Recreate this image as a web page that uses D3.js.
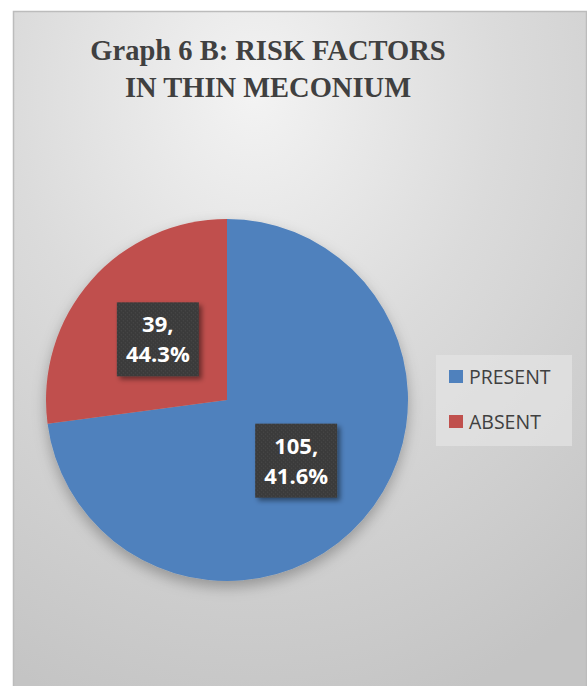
<!DOCTYPE html>
<html>
<head>
<meta charset="utf-8">
<script src="https://cdn.jsdelivr.net/npm/d3@7"></script>
<style>
  body { margin: 0; background: #fff; }
  svg { display: block; }
</style>
</head>
<body>
<div id="chart"></div>
<script>
// data
var categories = ["PRESENT", "ABSENT"];
var counts = [105, 39];
var labelPct = ["41.6%", "44.3%"];   // percentages as printed on the chart
var colors = ["#4f81bd", "#c0504d"];
var titleLines = ["Graph 6 B: RISK FACTORS", "IN THIN MECONIUM"];

var width = 587, height = 686;
var cx = 227, cy = 400, radius = 181;

var svg = d3.select("#chart").append("svg")
    .attr("width", width)
    .attr("height", height);

var defs = svg.append("defs");

var bg = defs.append("radialGradient")
    .attr("id", "bg")
    .attr("cx", "0.42").attr("cy", "0.12").attr("r", "0.95");
bg.append("stop").attr("offset", "0").attr("stop-color", "#f3f3f3");
bg.append("stop").attr("offset", "0.45").attr("stop-color", "#dbdbdb");
bg.append("stop").attr("offset", "1").attr("stop-color", "#c4c4c4");

var shadow = defs.append("filter").attr("id", "pieShadow")
    .attr("x", "-20%").attr("y", "-20%").attr("width", "140%").attr("height", "140%");
shadow.append("feDropShadow")
    .attr("dx", 0).attr("dy", 6).attr("stdDeviation", 7)
    .attr("flood-color", "#000").attr("flood-opacity", 0.28);

var boxShadow = defs.append("filter").attr("id", "boxShadow")
    .attr("x", "-20%").attr("y", "-20%").attr("width", "150%").attr("height", "150%");
boxShadow.append("feDropShadow")
    .attr("dx", 3).attr("dy", 3).attr("stdDeviation", 2.5)
    .attr("flood-color", "#000").attr("flood-opacity", 0.45);

var dots = defs.append("pattern").attr("id", "dots")
    .attr("width", 4).attr("height", 4).attr("patternUnits", "userSpaceOnUse");
dots.append("rect").attr("width", 4).attr("height", 4).attr("fill", "#3a3a3a");
dots.append("rect").attr("x", 1).attr("y", 1).attr("width", 1).attr("height", 1).attr("fill", "#4d4d4d");
dots.append("rect").attr("x", 3).attr("y", 3).attr("width", 1).attr("height", 1).attr("fill", "#4d4d4d");

// chart area
svg.append("rect")
    .attr("x", 13.5).attr("y", 11.5)
    .attr("width", 573).attr("height", 680)
    .attr("fill", "url(#bg)")
    .attr("stroke", "#bcbcbc")
    .attr("stroke-width", 1.5);

// title
svg.append("text")
    .attr("x", 267)
    .attr("y", 60)
    .attr("text-anchor", "middle")
    .style("font-family", "'Liberation Serif', 'Times New Roman', serif")
    .style("font-weight", "bold")
    .style("font-size", "28.5px")
    .style("fill", "#404040")
    .selectAll("tspan")
    .data(titleLines)
    .enter().append("tspan")
    .attr("x", 268)
    .attr("dy", function(d, i) { return i === 0 ? 0 : 37; })
    .text(function(d) { return d; });

// pie
var pie = d3.pie().sort(null).value(function(d) { return d; });
var arcs = pie(counts);
var arc = d3.arc().innerRadius(0).outerRadius(radius);
var labelArc = d3.arc().innerRadius(92).outerRadius(92);

var g = svg.append("g")
    .attr("transform", "translate(" + cx + "," + cy + ")");

g.append("g")
    .attr("filter", "url(#pieShadow)")
    .selectAll("path")
    .data(arcs)
    .enter().append("path")
    .attr("d", arc)
    .attr("fill", function(d, i) { return colors[i]; });

// data labels
var boxW = 82, boxH = 74;
var lab = g.selectAll("g.label")
    .data(arcs)
    .enter().append("g")
    .attr("class", "label")
    .attr("transform", function(d) {
        var c = labelArc.centroid(d);
        return "translate(" + c[0] + "," + c[1] + ")";
    });

lab.append("rect")
    .attr("x", -boxW / 2).attr("y", -boxH / 2)
    .attr("width", boxW).attr("height", boxH)
    .attr("fill", "url(#dots)")
    .attr("filter", "url(#boxShadow)");

lab.append("text")
    .attr("text-anchor", "middle")
    .style("font-family", "'Open Sans', 'Noto Sans', sans-serif")
    .style("font-weight", "bold")
    .style("font-size", "22px")
    .style("fill", "#ffffff")
    .selectAll("tspan")
    .data(function(d, i) { return [counts[i] + ",", labelPct[i]]; })
    .enter().append("tspan")
    .attr("x", 0)
    .attr("y", function(d, i) { return i === 0 ? -7 : 23; })
    .text(function(d) { return d; });

// legend
var legend = svg.append("g");
legend.append("rect")
    .attr("x", 436).attr("y", 355)
    .attr("width", 136).attr("height", 91)
    .attr("fill", "#e4e4e4")
    .attr("opacity", 0.7);

var legendY = d3.scalePoint().domain(categories).range([377, 422]);

var item = legend.selectAll("g.item")
    .data(categories)
    .enter().append("g")
    .attr("class", "item")
    .attr("transform", function(d) { return "translate(449," + legendY(d) + ")"; });

item.append("rect")
    .attr("x", 0).attr("y", -7)
    .attr("width", 14).attr("height", 13)
    .attr("fill", function(d, i) { return colors[i]; });

item.append("text")
    .attr("x", 20)
    .attr("y", 7)
    .style("font-family", "'Open Sans', 'Noto Sans', sans-serif")
    .style("font-size", "19.5px")
    .style("fill", "#404040")
    .text(function(d) { return d; });
</script>
</body>
</html>
